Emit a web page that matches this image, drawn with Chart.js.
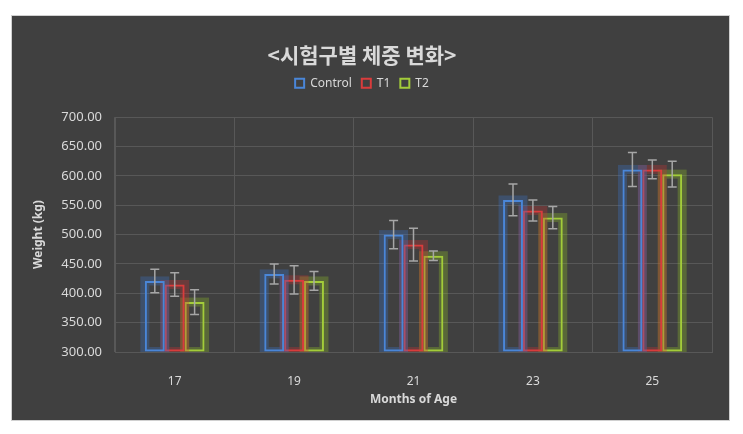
<!DOCTYPE html>
<html>
<head>
<meta charset="utf-8">
<script src="https://cdn.jsdelivr.net/npm/chart.js@4/dist/chart.umd.min.js"></script>
<style>
  html, body { margin: 0; padding: 0; background: #ffffff; }
  #box {
    position: absolute; left: 11px; top: 15px;
    width: 719px; height: 406px;
    background: #404040;
    border: 1px solid #d0d0d0; box-sizing: border-box;
  }
</style>
</head>
<body>
<div id="box"><canvas id="weightChart"></canvas></div>
<script>
// 데이터
const months = ['17', '19', '21', '23', '25'];
const controlMean = [421, 433, 500, 559, 611];
const t1Mean = [415, 423, 483, 541, 611];
const t2Mean = [385, 421, 464, 529, 603];
const controlErr = [20, 17, 24, 27, 29];
const t1Err = [20, 24, 28, 18, 16];
const t2Err = [21, 16, 8, 19, 22];
const yTicks = [300, 350, 400, 450, 500, 550, 600, 650, 700];

const TEXT = '#d9d9d9';
const GRID = '#585858';

function makeSet(label, values, errs, color, glow) {
    return {
        label: label,
        data: values,
        errors: errs,
        glow: glow,
        base: 300,
        backgroundColor: 'rgba(0,0,0,0)',
        borderColor: color,
        borderWidth: 2,
        borderSkipped: false,
        categoryPercentage: 0.5,
        barPercentage: 1.0
    };
}

// 범례 아래 여백 늘리기
const legendSpacer = {
    id: 'legendSpacer',
    afterInit(chart) {
        const legend = chart.legend;
        const fit = legend.fit;
        legend.fit = function () {
            fit.call(this);
            this.height += 18;
        };
    }
};

// 막대 주위 번짐 효과
const glowPlugin = {
    id: 'glow',
    beforeDatasetDraw(chart, args) {
        const ds = chart.data.datasets[args.index];
        const ctx = chart.ctx;
        ctx.save();
        ctx.beginPath();
        ctx.rect(chart.chartArea.left, chart.chartArea.top - 10, chart.chartArea.width, chart.chartArea.height + 10);
        ctx.clip();
        ctx.strokeStyle = ds.glow;
        ctx.lineWidth = 9;
        args.meta.data.forEach(bar => {
            const p = bar.getProps(['x', 'y', 'base', 'width'], true);
            ctx.strokeRect(p.x - p.width / 2, p.y, p.width, p.base - p.y);
        });
        ctx.restore();
    }
};

// 오차 막대
const errorBarPlugin = {
    id: 'errorBars',
    afterDatasetsDraw(chart) {
        const ctx = chart.ctx;
        const yScale = chart.scales.y;
        ctx.save();
        ctx.strokeStyle = '#a6a6a6';
        ctx.lineWidth = 1.5;
        chart.data.datasets.forEach((ds, i) => {
            const meta = chart.getDatasetMeta(i);
            meta.data.forEach((bar, j) => {
                const x = bar.x;
                const top = yScale.getPixelForValue(ds.data[j] + ds.errors[j]);
                const bot = yScale.getPixelForValue(ds.data[j] - ds.errors[j]);
                ctx.beginPath();
                ctx.moveTo(x, top); ctx.lineTo(x, bot);
                ctx.moveTo(x - 4.5, top); ctx.lineTo(x + 4.5, top);
                ctx.moveTo(x - 4.5, bot); ctx.lineTo(x + 4.5, bot);
                ctx.stroke();
            });
        });
        ctx.restore();
    }
};

function renderChart() {
    const ctx = document.getElementById('weightChart').getContext('2d');
    new Chart(ctx, {
        type: 'bar',
        data: {
            labels: months,
            datasets: [
                makeSet('Control', controlMean, controlErr, '#4a86d8', 'rgba(60,120,210,0.3)'),
                makeSet('T1', t1Mean, t1Err, '#d93c3c', 'rgba(210,50,50,0.3)'),
                makeSet('T2', t2Mean, t2Err, '#a3cc3a', 'rgba(150,200,40,0.3)')
            ]
        },
        options: {
            responsive: true,
            maintainAspectRatio: false,
            animation: false,
            layout: { padding: { right: 17, bottom: 0 } },
            plugins: {
                title: {
                    display: true,
                    text: '<시험구별 체중 변화>',
                    color: TEXT,
                    font: { family: "'Noto Sans CJK KR', 'Noto Sans'", size: 21, weight: 'bold' },
                    padding: { top: 26, bottom: 0 }
                },
                legend: {
                    display: true,
                    labels: {
                        color: TEXT,
                        boxWidth: 9,
                        boxHeight: 9,
                        padding: 10,
                        font: { family: "'Noto Sans'", size: 12 }
                    }
                },
                tooltip: { enabled: false }
            },
            scales: {
                x: {
                    afterFit: axis => { axis.height = 68; },
                    grid: { color: GRID, drawTicks: false },
                    border: { color: GRID },
                    ticks: { color: TEXT, padding: 22, font: { family: "'Noto Sans'", size: 12 } },
                    title: {
                        display: true,
                        text: 'Months of Age',
                        color: TEXT,
                        font: { family: "'Noto Sans'", size: 12, weight: 'bold' },
                        padding: { top: 0, bottom: 13 }
                    }
                },
                y: {
                    min: 300,
                    max: 700,
                    afterBuildTicks: axis => { axis.ticks = yTicks.map(v => ({ value: v })); },
                    afterFit: axis => { axis.width = 103; },
                    grid: { color: GRID, drawTicks: false },
                    border: { color: GRID },
                    ticks: {
                        color: TEXT,
                        padding: 13,
                        font: { family: "'Noto Sans'", size: 13 },
                        callback: v => Number(v).toFixed(2)
                    },
                    title: {
                        display: true,
                        text: 'Weight (kg)',
                        color: TEXT,
                        font: { family: "'Noto Sans'", size: 12, weight: 'bold' },
                        padding: { top: 19, bottom: 19 }
                    }
                }
            }
        },
        plugins: [legendSpacer, glowPlugin, errorBarPlugin]
    });
}

window.onload = renderChart;
</script>
</body>
</html>
